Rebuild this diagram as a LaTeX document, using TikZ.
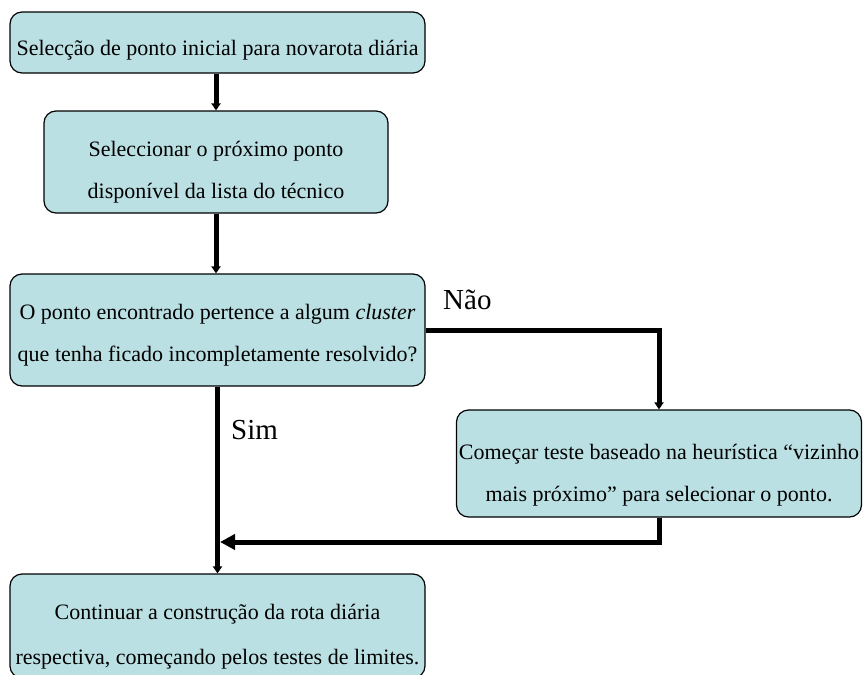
\documentclass[tikz,border=0pt]{standalone}
\usepackage{fontspec}
\setmainfont{Liberation Serif}
\usetikzlibrary{arrows.meta}
\definecolor{boxfill}{HTML}{BBE0E3}
\tikzset{
  box/.style={draw=black, line width=1.2pt, fill=boxfill, rounded corners=12pt,
    inner sep=0pt},
  txt/.style={align=center, inner sep=0pt, font=\fontsize{22}{42}\selectfont},
  conn/.style={line width=5pt, -{Triangle[width=9pt,length=7pt]}},
  bigconn/.style={line width=5pt, -{Triangle[width=15pt,length=15pt]}},
  lbl/.style={font=\fontsize{29}{32}\selectfont, inner sep=0pt}
}
\begin{document}
\begin{tikzpicture}[x=1pt,y=-1pt]
\useasboundingbox (0,0) rectangle (863,675);
\begin{scope}
\clip (0,0) rectangle (863,675);
% process steps
\node[box, minimum width=415pt, minimum height=61pt] (b1) at (217.5,42.5) {};
\node[box, minimum width=344pt, minimum height=102pt] (b2) at (216,162) {};
\node[box, minimum width=415pt, minimum height=112pt] (b3) at (217.5,330) {};
\node[box, minimum width=405pt, minimum height=107pt] (b4) at (659,463.5) {};
\node[box, minimum width=415pt, minimum height=104pt] (b5) at (217.5,626) {};
% step texts, set a little below the box centres
\node[txt] (t1) at ([yshift=-8pt]b1.center)
  {Selecção de ponto inicial para novarota diária};
\node[txt] (t2) at ([yshift=-10pt]b2.center)
  {Seleccionar o próximo ponto\\disponível da lista do técnico};
\node[txt] (t3) at ([yshift=-5pt]b3.center)
  {O ponto encontrado pertence a algum \textit{cluster}\\que tenha ficado incompletamente resolvido?};
\node[txt] (t4) at ([yshift=-12pt]b4.center)
  {Começar teste baseado na heurística “vizinho\\mais próximo” para selecionar o ponto.};
\node[txt, font=\fontsize{22}{45}\selectfont] (t5) at ([yshift=-11pt]b5.center)
  {Continuar a construção da rota diária\\respectiva, começando pelos testes de limites.};
\end{scope}
% connectors
\draw[conn] (b2.north |- b1.south) -- (b2.north);
\draw[conn] (b2.south) -- (b2.south |- b3.north);
\draw[conn] (b3.east) -| (b4.north);
\draw[conn] (b3.south) -- (b3.south |- b5.north);
\coordinate (join) at (220,542);
\draw[bigconn] (b4.south) |- (join);
% branch labels
\node[lbl, anchor=west] (nao) at (443,300) {Não};
\node[lbl, anchor=west] (sim) at (231,430) {Sim};
\end{tikzpicture}
\end{document}
